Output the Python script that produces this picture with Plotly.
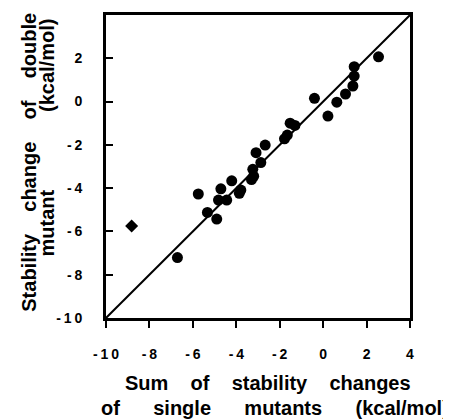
import plotly.graph_objects as go

# Circles: sum of single-mutant changes (x) vs double-mutant change (y), kcal/mol
sum_single = [-5.75, -6.71, -5.33, -4.90, -4.82, -4.71, -4.44, -4.21, -3.86, -3.79,
              -3.30, -3.20, -3.24, -2.87, -3.09, -2.67, -1.78, -1.65, -1.52, -1.30,
              -0.40, 0.22, 0.63, 1.03, 1.37, 1.43, 1.43, 2.55]
double_mut = [-4.27, -7.21, -5.12, -5.43, -4.55, -4.03, -4.55, -3.66, -4.24, -4.09,
              -3.60, -3.45, -3.13, -2.82, -2.36, -2.01, -1.72, -1.55, -1.00, -1.10,
              0.15, -0.67, -0.03, 0.35, 0.72, 1.18, 1.61, 2.07]
# Diamond outlier
out_x = [-8.82]
out_y = [-5.75]

axis_range = [-10, 4]
tick_vals = [-10, -8, -6, -4, -2, 0, 2, 4]
tick_text = ["-\u20091\u20090", "-\u20098", "-\u20096", "-\u20094", "-\u20092", "0", "2", "4"]

x_title_lines = ["Sum of stability changes", "of single mutants (kcal/mol)"]
y_title_lines = ["Stability change of double", "mutant (kcal/mol)"]

FONT = "Liberation Sans, Arial, Helvetica, sans-serif"


def spaced(text, n):
    return ("\u00a0" * n).join(text.split(" "))


fig = go.Figure()
fig.add_trace(go.Scatter(x=axis_range, y=axis_range, mode="lines",
                         line=dict(color="black", width=2), hoverinfo="skip"))
fig.add_trace(go.Scatter(x=sum_single, y=double_mut, mode="markers",
                         marker=dict(symbol="circle", size=11, color="black")))
fig.add_trace(go.Scatter(x=out_x, y=out_y, mode="markers",
                         marker=dict(symbol="diamond", size=10, color="black")))

axis_common = dict(range=axis_range, tickmode="array", tickvals=tick_vals, ticktext=tick_text,
                   showgrid=False, zeroline=False, showline=True, linecolor="black",
                   linewidth=3, mirror=True, ticklen=7, tickwidth=2, tickcolor="black",
                   automargin=False,
                   tickfont=dict(family=FONT, size=14, color="black", weight="bold"))

fig.update_xaxes(**axis_common, ticks="outside", ticklabelstandoff=14)
fig.update_yaxes(**axis_common, ticks="inside", ticklabelstandoff=18)

tfont = dict(family=FONT, size=20, color="black", weight="bold")
# x-axis title, two lines
fig.add_annotation(text=spaced(x_title_lines[0], 4), xref="paper", yref="paper",
                   x=0.533, y=-0.2145, xanchor="center", yanchor="middle",
                   showarrow=False, font=tfont)
fig.add_annotation(text=spaced(x_title_lines[1], 6), xref="paper", yref="paper",
                   x=0.556, y=-0.297, xanchor="center", yanchor="middle",
                   showarrow=False, font=tfont)
# y-axis title, two rotated lines
fig.add_annotation(text=spaced(y_title_lines[0], 4), xref="paper", yref="paper",
                   x=-0.256, y=0.513, xanchor="center", yanchor="middle", textangle=-90,
                   showarrow=False, font=tfont)
fig.add_annotation(text=spaced(y_title_lines[1], 14), xref="paper", yref="paper",
                   x=-0.193, y=0.597, xanchor="center", yanchor="middle", textangle=-90,
                   showarrow=False, font=tfont)

# page body has an 8px margin, so the figure is offset to fit the 451x419 window
fig.update_layout(width=443, height=411, showlegend=False,
                  margin=dict(l=98, r=41, t=7, b=101),
                  paper_bgcolor="white", plot_bgcolor="white",
                  font=dict(family=FONT, color="black"))

fig.write_html("out.html")
